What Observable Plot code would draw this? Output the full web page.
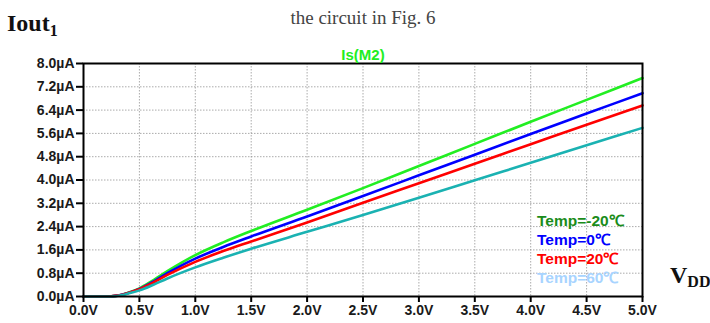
<!DOCTYPE html>
<html>
<head>
<meta charset="utf-8">
<script src="https://cdn.jsdelivr.net/npm/d3@7"></script>
<script src="https://cdn.jsdelivr.net/npm/@observablehq/plot@0.6"></script>
<style>
  html, body { margin: 0; padding: 0; background: white; }
  #chart svg { display: block; }
</style>
</head>
<body>
<div id="chart"></div>
<script>
// ---- data ----
const volts = [0, 0.2, 0.3, 0.35, 0.4, 0.5, 0.6, 0.75, 1.0, 1.25, 1.5, 2.0, 2.5, 3.0, 3.5, 4.0, 4.5, 5.0];
const iTempM20 = [0, 0, 0.03, 0.07, 0.13, 0.28, 0.50, 0.87, 1.42, 1.86, 2.25, 2.98, 3.72, 4.48, 5.24, 6.00, 6.75, 7.50];
const iTemp0   = [0, 0, 0.03, 0.07, 0.12, 0.26, 0.46, 0.80, 1.30, 1.70, 2.06, 2.75, 3.45, 4.16, 4.87, 5.58, 6.28, 6.98];
const iTemp20  = [0, 0, 0.03, 0.06, 0.12, 0.25, 0.43, 0.74, 1.19, 1.56, 1.89, 2.54, 3.22, 3.89, 4.56, 5.23, 5.90, 6.56];
const iTemp60  = [0, 0, 0.02, 0.05, 0.10, 0.21, 0.36, 0.62, 1.00, 1.33, 1.64, 2.22, 2.80, 3.39, 3.99, 4.59, 5.19, 5.79];
const seriesNames = ["Temp=-20℃", "Temp=0℃", "Temp=20℃", "Temp=60℃"];
const lineColors = ["#22ee22", "#0000ff", "#ff0000", "#1ab2b2"];
const legendColors = ["#1a8c1a", "#0000ff", "#ff0000", "#a8d4ff"];
const xTicks = [0, 0.5, 1.0, 1.5, 2.0, 2.5, 3.0, 3.5, 4.0, 4.5, 5.0];
const yTicks = [0, 0.8, 1.6, 2.4, 3.2, 4.0, 4.8, 5.6, 6.4, 7.2, 8.0];
const traceTitle = "Is(M2)";
const pageTitle = "the circuit in Fig. 6";

const seriesValues = [iTempM20, iTemp0, iTemp20, iTemp60];
const data = [];
seriesValues.forEach((vals, k) => {
  vals.forEach((v, j) => data.push({v: volts[j], i: v, series: seriesNames[k]}));
});

const W = 710, H = 323;
const chart = Plot.plot({
  width: W,
  height: H,
  marginLeft: 83,
  marginRight: 68,
  marginTop: 63,
  marginBottom: 27,
  style: {
    fontFamily: "'Liberation Sans', Arial, sans-serif",
    fontSize: "14px",
    fontWeight: "bold",
    color: "#1a1a1a",
    background: "white",
    overflow: "visible"
  },
  x: {domain: [0, 5]},
  y: {domain: [0, 8]},
  color: {domain: seriesNames, range: lineColors},
  marks: [
    Plot.gridX(xTicks.slice(1, -1), {stroke: "#888", strokeOpacity: 0.7, strokeDasharray: "1.5,1.5"}),
    Plot.gridY(yTicks.slice(1, -1), {stroke: "#888", strokeOpacity: 0.7, strokeDasharray: "1.5,1.5"}),
    Plot.line(data, {x: "v", y: "i", z: "series", stroke: "series", strokeWidth: 2.6, curve: "monotone-x"}),
    Plot.frame({stroke: "black", strokeWidth: 2}),
    Plot.axisY(yTicks, {tickSize: 7, tickPadding: 2, strokeWidth: 2, stroke: "black",
      tickFormat: d => d.toFixed(1) + "µA", fontSize: 14, fontWeight: "bold", label: null}),
    Plot.axisX(xTicks, {tickSize: 6, tickPadding: 3, strokeWidth: 2, stroke: "black",
      tickFormat: d => d.toFixed(1) + "V", fontSize: 14, fontWeight: "bold", label: null})
  ]
});
document.getElementById("chart").appendChild(chart);

// ---- annotations ----
const svg = d3.select(chart);
const ann = svg.append("g").attr("text-anchor", "start");

// Y title: Iout1
const t1 = ann.append("text")
  .attr("x", 7).attr("y", 31).attr("text-anchor", "start")
  .attr("font-family", "'Liberation Serif', 'DejaVu Serif', serif")
  .attr("font-weight", "bold").attr("font-size", 24).attr("fill", "#111");
t1.append("tspan").text("Iout");
t1.append("tspan").attr("font-size", 16).attr("dy", 5).text("1");

// Subtitle
ann.append("text")
  .attr("x", 363).attr("y", 24).attr("text-anchor", "middle")
  .attr("font-family", "'Liberation Serif', serif")
  .attr("font-weight", "normal").attr("font-size", 19).attr("fill", "#444")
  .text(pageTitle);

// Trace title
ann.append("text")
  .attr("x", 363).attr("y", 60).attr("text-anchor", "middle")
  .attr("font-family", "'Liberation Sans', Arial, sans-serif")
  .attr("font-weight", "bold").attr("font-size", 15).attr("fill", "#22ee22")
  .text(traceTitle);

// X title: VDD
const t2 = ann.append("text")
  .attr("x", 670).attr("y", 283).attr("text-anchor", "start")
  .attr("font-family", "'Liberation Serif', 'DejaVu Serif', serif")
  .attr("font-weight", "bold").attr("font-size", 24).attr("fill", "#111");
t2.append("tspan").text("V");
t2.append("tspan").attr("font-size", 16).attr("dy", 4).text("DD");

// Legend
seriesNames.forEach((name, k) => {
  ann.append("text")
    .attr("x", 537).attr("y", 226 + k * 19).attr("text-anchor", "start")
    .attr("font-family", "'Liberation Sans', Arial, sans-serif")
    .attr("font-weight", "bold").attr("font-size", 15.5)
    .attr("fill", legendColors[k])
    .text(name);
});
</script>
</body>
</html>
